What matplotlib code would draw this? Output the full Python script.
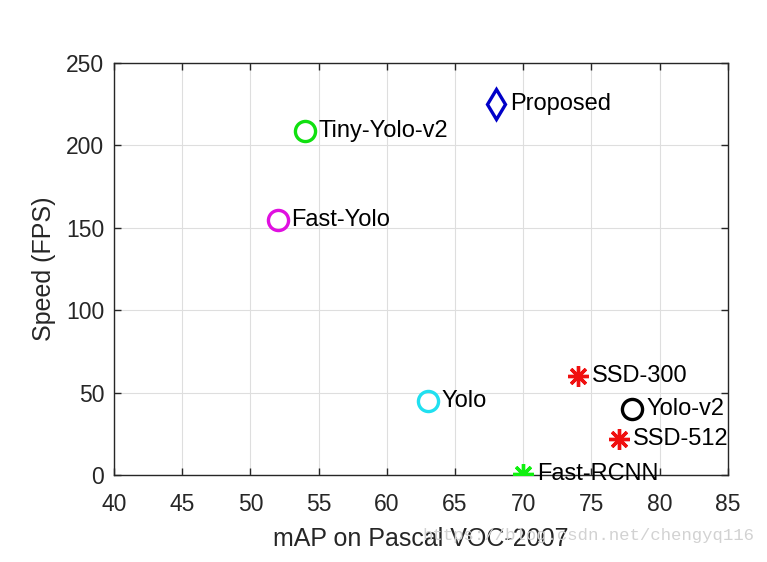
import matplotlib
matplotlib.use("Agg")
import matplotlib.pyplot as plt

names = ["Proposed", "Tiny-Yolo-v2", "Fast-Yolo", "Yolo", "SSD-300", "Yolo-v2", "SSD-512", "Fast-RCNN"]
mAP = [68, 54, 52, 63, 74, 78, 77, 70]
fps = [225, 209, 155, 45, 60, 40, 22, 0.5]
markers = ["d", "o", "o", "o", (8, 2, 0), "o", (8, 2, 0), (8, 2, 0)]
colors = ["#0000c8", "#10e010", "#e010e0", "#20e0f0", "#f01010", "#000000", "#f01010", "#10f010"]
sizes = [15.5, 14.5, 14.5, 14.5, 15, 14.5, 15, 15]

xticks = [40, 45, 50, 55, 60, 65, 70, 75, 80, 85]
yticks = [0, 50, 100, 150, 200, 250]

plt.rcParams['font.family'] = ['Liberation Sans', 'DejaVu Sans']
fig = plt.figure(figsize=(7.67, 5.62), dpi=100)
ax = fig.add_axes([0.1486, 0.1548, 0.8004, 0.7332])

dark = "#262626"
for n, x, y, m, c, s in zip(names, mAP, fps, markers, colors, sizes):
    ax.plot(x, y, marker=m, markersize=s, markerfacecolor="none",
            markeredgecolor=c, markeredgewidth=2.4, linestyle="none", zorder=3)
    ax.annotate(n, (x, y), xytext=(10, 0), textcoords="offset points",
                ha="left", va="center", fontsize=17, color="black", zorder=4)

ax.set_xlim(40, 85)
ax.set_ylim(0, 250)
ax.set_xticks(xticks)
ax.set_yticks(yticks)
ax.grid(True, color="#dedede", linewidth=0.8)
ax.set_axisbelow(True)
ax.tick_params(direction="in", top=True, right=True, length=5, width=1,
               colors=dark, labelsize=16.5, labelcolor=dark)
ax.tick_params(axis="x", pad=13)
ax.tick_params(axis="y", pad=7)
for sp in ax.spines.values():
    sp.set_color(dark)
    sp.set_linewidth(1.0)

fig.text(0.984, 0.040, "https://blog.csdn.net/chengyq116", ha="right", va="baseline",
         fontsize=12.5, color="#d2d2d2", family=["Liberation Mono", "DejaVu Sans Mono"])

ax.set_xlabel("mAP on Pascal VOC-2007", fontsize=18, color=dark, labelpad=8)
ax.set_ylabel("Speed (FPS)", fontsize=18, color=dark, labelpad=7)

fig.savefig("out.png", dpi=100)
